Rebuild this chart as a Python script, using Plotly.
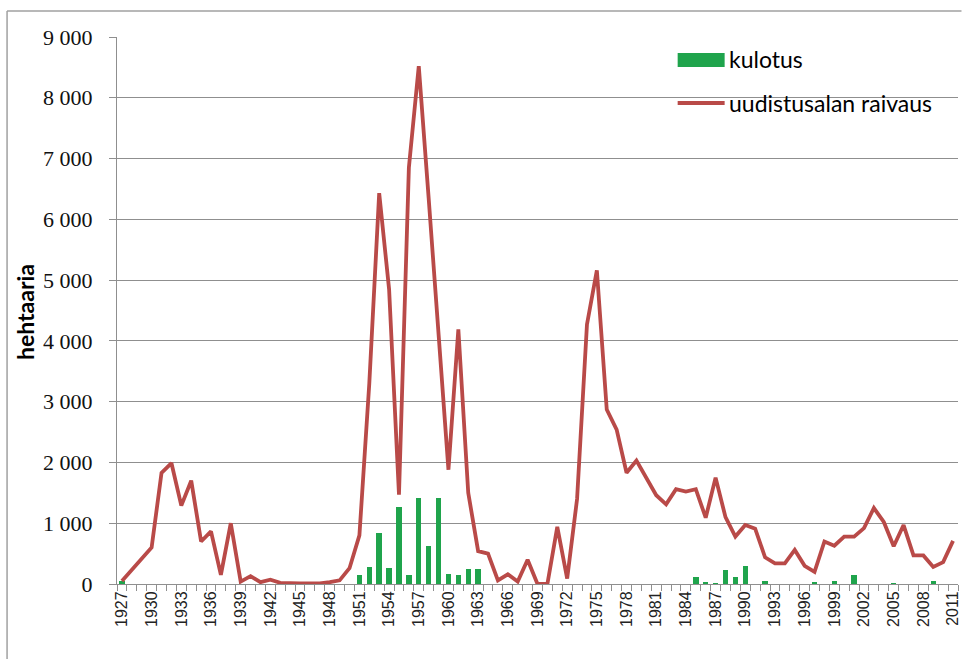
import plotly.graph_objects as go

years = list(range(1927, 2012))

raivaus = [
    50, 230, 400, 600, 1830, 1990, 1290, 1700, 700, 865,      # 1927-1936
    150, 1000, 40, 130, 30, 70, 20, 10, 10, 10,               # 1937-1946
    10, 30, 60, 260, 800, 3300, 6430, 4850, 1470, 6850,       # 1947-1956
    8520, 6350, 4200, 1880, 4190, 1500, 540, 500, 60, 160,    # 1957-1966
    40, 400, 0, 0, 940, 90, 1400, 4270, 5160, 2870,           # 1967-1976
    2540, 1830, 2030, 1760, 1460, 1310, 1560, 1520, 1560, 1090,  # 1977-1986
    1750, 1100, 780, 970, 910, 440, 340, 340, 560, 300,       # 1987-1996
    200, 700, 630, 780, 780, 920, 1250, 1020, 620, 970,       # 1997-2006
    470, 470, 280, 360, 710,                                  # 2007-2011
]

kulotus = [
    50, 0, 0, 0, 0, 0, 0, 0, 0, 0,                            # 1927-1936
    0, 0, 0, 0, 0, 0, 0, 0, 0, 0,                             # 1937-1946
    0, 0, 0, 0, 150, 280, 840, 270, 1270, 150,                # 1947-1956
    1420, 630, 1420, 170, 150, 240, 240, 0, 0, 0,             # 1957-1966
    0, 0, 0, 0, 0, 0, 0, 0, 0, 0,                             # 1967-1976
    0, 0, 0, 0, 0, 0, 0, 0, 110, 30,                          # 1977-1986
    10, 230, 110, 300, 0, 55, 0, 0, 0, 0,                     # 1987-1996
    40, 0, 55, 0, 140, 0, 0, 0, 5, 0,                         # 1997-2006
    0, 0, 55, 0, 0,                                           # 2007-2011
]

x_label_years = years[::3]
x_labels = [str(y) for y in x_label_years]
y_tickvals = [0, 1000, 2000, 3000, 4000, 5000, 6000, 7000, 8000, 9000]
y_ticktext = ["0", "1 000", "2 000", "3 000", "4 000", "5 000", "6 000", "7 000", "8 000", "9 000"]

series_names = ["kulotus", "uudistusalan raivaus"]
y_title = "hehtaaria"

GREEN = "#1fa44c"
RED = "#b94a48"
GRID = "#8f8f8f"

W, H = 962, 659
L, R, T, B = 117, 958.5, 37, 584


def px(xp):
    return (xp - L) / (R - L)


def py(yp):
    return (B - yp) / (B - T)


fig = go.Figure()
fig.add_trace(go.Bar(x=years, y=kulotus, width=0.55, marker=dict(color=GREEN, line=dict(width=0)),
                     name=series_names[0], showlegend=False))
fig.add_trace(go.Scatter(x=years, y=raivaus, mode="lines", line=dict(color=RED, width=3.8),
                         name=series_names[1], showlegend=False, cliponaxis=False))

fig.update_layout(
    width=W, height=H,
    margin=dict(l=L, r=W - R, t=T, b=H - B, autoexpand=False),
    paper_bgcolor="white", plot_bgcolor="white",
    showlegend=False,
    bargap=0,
)

fig.update_xaxes(
    range=[years[0] - 0.5, years[-1] + 0.5],
    tickmode="array", tickvals=x_label_years, ticktext=x_labels,
    tickangle=-90, ticks="", showgrid=False,
    showline=True, linecolor=GRID, linewidth=1,
    tickfont=dict(family="Liberation Sans", size=16, color="#222"),
    minor=dict(tickmode="linear", tick0=years[0] - 0.5, dtick=1, ticks="outside",
               ticklen=6, tickcolor=GRID, tickwidth=1, showgrid=False),
    zeroline=False,
    automargin=False,
)

fig.update_yaxes(
    range=[0, 9000],
    tickmode="array", tickvals=y_tickvals, ticktext=y_ticktext,
    ticks="outside", ticklen=7, tickcolor=GRID,
    showgrid=True, gridcolor=GRID, gridwidth=1,
    showline=True, linecolor=GRID, linewidth=1,
    zeroline=False,
    tickfont=dict(family="Liberation Serif", size=22, color="#111"),
    ticklabelstandoff=12,
    automargin=False,
)

# y-axis title as rotated text
fig.add_annotation(xref="paper", yref="paper", x=px(25), y=py(312), text=y_title, textangle=-90,
                   showarrow=False, xanchor="center", yanchor="middle",
                   font=dict(family="Lato", size=23, color="black", weight="bold"))

# outer chart border (top and left, as in the cropped reference)
fig.add_shape(type="line", xref="paper", yref="paper", x0=px(7), x1=px(962), y0=py(11), y1=py(11),
              line=dict(color="#a0a0a0", width=1.5))
fig.add_shape(type="line", xref="paper", yref="paper", x0=px(7), x1=px(7), y0=py(11), y1=py(659),
              line=dict(color="#a0a0a0", width=1.5))

# custom legend
fig.add_shape(type="rect", xref="paper", yref="paper", x0=px(678), x1=px(725), y0=py(53), y1=py(67),
              fillcolor=GREEN, line=dict(width=0))
fig.add_shape(type="line", xref="paper", yref="paper", x0=px(678), x1=px(725), y0=py(103), y1=py(103),
              line=dict(color=RED, width=3.8))
fig.add_annotation(xref="paper", yref="paper", x=px(727), y=py(59), text=series_names[0],
                   showarrow=False, xanchor="left", yanchor="middle",
                   font=dict(family="Lato", size=23, color="black"))
fig.add_annotation(xref="paper", yref="paper", x=px(727), y=py(103), text=series_names[1],
                   showarrow=False, xanchor="left", yanchor="middle",
                   font=dict(family="Lato", size=23, color="black"))

fig.write_html("out.html", config={"displayModeBar": False},
               post_script="document.body.style.margin='0';document.body.style.padding='0';")
